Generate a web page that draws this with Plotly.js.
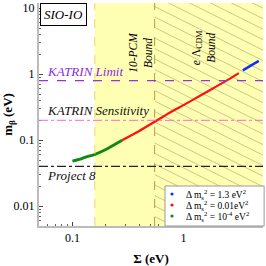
<!DOCTYPE html>
<html><head><meta charset="utf-8">
<script src="https://cdn.plot.ly/plotly-3.0.1.min.js"></script>
<style>html,body{margin:0;padding:0;background:#fff}#c{width:266px;height:266px}</style>
</head><body><div id="c"></div>
<script>
// Data
var greenSigma = [0.1, 0.115, 0.13, 0.16, 0.2, 0.24, 0.28];
var greenMb    = [0.048, 0.051, 0.055, 0.061, 0.072, 0.086, 0.1];
var redSigma   = [0.28, 0.4, 0.55, 0.75, 1.0, 1.5, 2.0, 2.5, 3.15];
var redMb      = [0.1, 0.138, 0.19, 0.26, 0.34, 0.5, 0.66, 0.82, 1.04];
var blueSigma  = [3.42, 4.0, 4.77];
var blueMb     = [1.14, 1.34, 1.59];
var seriesColors = ['#1030ff', '#ff1010', '#118811'];
var legendNames = ["Δ m<sub>s</sub><sup>2</sup> = 1.3 eV<sup>2</sup>",
                   "Δ m<sub>s</sub><sup>2</sup> = 0.01eV<sup>2</sup>",
                   "Δ m<sub>s</sub><sup>2</sup> = 10<sup>-4</sup> eV<sup>2</sup>"];
var xRange = [0.05, 5.2];
var yRange = [0.005, 12];
var pcmBound = 0.159;
var lcdmBound = 0.55;
var katrinLimit = 0.8;
var katrinSens = 0.2;
var project8 = 0.04;
var xTicks = [0.1, 1];
var xTickText = ["0.1", "1"];
var yTicks = [0.01, 0.1, 1, 10];
var yTickText = ["0.01", "0.1", "1", "10"];

var serif = "Liberation Serif, Times New Roman, serif";
var L = Math.log10;
var M = {l:39, r:3, t:3, b:40};
var W = 266 - M.l - M.r, H = 266 - M.t - M.b;

// hatch pattern (styling only) for the region right of the eLCDM bound
var lx0 = L(xRange[0]), lx1 = L(xRange[1]), ly0 = L(yRange[0]), ly1 = L(yRange[1]);
var pxX = W / (lx1 - lx0), pxY = H / (ly1 - ly0);
var hatchSlope = 0.5, hatchStep = 10.5;
var hx = [], hy = [];
var xLpx = (L(lcdmBound) - lx0) * pxX, xRpx = W;
for (var y0 = -hatchSlope * W; y0 < H + 5; y0 += hatchStep) {
  var ya = y0, yb = y0 + hatchSlope * (xRpx - xLpx);
  hx.push(Math.pow(10, lx0 + xLpx / pxX), Math.pow(10, lx0 + xRpx / pxX), null);
  hy.push(Math.pow(10, ly1 - ya / pxY), Math.pow(10, ly1 - yb / pxY), null);
}

var traces = [
  {x:hx, y:hy, mode:'lines', line:{color:'rgba(140,130,70,0.55)', width:0.8}, showlegend:false, hoverinfo:'skip'},
  {x:greenSigma, y:greenMb, mode:'lines', line:{color:seriesColors[2], width:2.8, shape:'spline', smoothing:0.6}, showlegend:false},
  {x:redSigma, y:redMb, mode:'lines', line:{color:seriesColors[1], width:2.2, shape:'spline', smoothing:0.6}, showlegend:false},
  {x:blueSigma, y:blueMb, mode:'lines', line:{color:seriesColors[0], width:2.5}, showlegend:false}
];

var shapes = [
  {type:'rect', xref:'x', yref:'paper', x0:pcmBound, x1:xRange[1], y0:0, y1:1,
   fillcolor:'rgb(255,255,180)', line:{width:0}, layer:'below'},
  {type:'line', xref:'x', yref:'paper', x0:pcmBound, x1:pcmBound, y0:0, y1:1,
   line:{color:'#e8d870', width:1, dash:'dash'}},
  {type:'line', xref:'x', yref:'paper', x0:lcdmBound, x1:lcdmBound, y0:0, y1:1,
   line:{color:'#b89a40', width:1, dash:'dash'}},
  {type:'line', xref:'paper', yref:'y', x0:0, x1:1, y0:katrinLimit, y1:katrinLimit,
   line:{color:'#9a32d8', width:1.3, dash:'dash'}},
  {type:'line', xref:'paper', yref:'y', x0:0, x1:1, y0:katrinSens, y1:katrinSens,
   line:{color:'#ff66cc', width:1, dash:'dashdot'}},
  {type:'line', xref:'paper', yref:'y', x0:0, x1:1, y0:project8, y1:project8,
   line:{color:'#222', width:1.2, dash:'dashdot'}},
  // legend box
  {type:'rect', xref:'paper', yref:'paper', x0:(165 - M.l) / W, x1:1.005, y0:0, y1:(H + M.t - 186) / H,
   fillcolor:'#fff', line:{color:'#999', width:1}}
];

var annotations = [
  {xref:'paper', yref:'paper', x:0.003, y:1, xanchor:'left', yanchor:'top', showarrow:false,
   text:'<i>SIO-IO</i>', font:{family:serif, size:13, color:'#000'},
   bordercolor:'#000', borderwidth:1, borderpad:3, bgcolor:'#fff'},
  {xref:'x', yref:'paper', x:L(0.41), y:0.88, showarrow:false, textangle:-90,
   text:'<i>10-PCM<br>Bound</i>', font:{family:serif, size:11.5, color:'#000'}},
  {xref:'x', yref:'paper', x:L(1.5), y:0.885, showarrow:false, textangle:-90,
   text:'<i>e</i> Λ<sub>CDM</sub><br><i>Bound</i>', font:{family:serif, size:11.5, color:'#000'}},
  {xref:'paper', yref:'y', x:0.025, y:L(katrinLimit), xanchor:'left', yanchor:'bottom', showarrow:false,
   text:'<i>KATRIN Limit</i>', font:{family:serif, size:13, color:'#8a2be2'}},
  {xref:'paper', yref:'y', x:0.025, y:L(katrinSens), xanchor:'left', yanchor:'bottom', showarrow:false,
   text:'<i>KATRIN Sensitivity</i>', font:{family:serif, size:13, color:'#111'}},
  {xref:'paper', yref:'y', x:0.025, y:L(project8), xanchor:'left', yanchor:'top', showarrow:false,
   text:'<i>Project 8</i>', font:{family:serif, size:13, color:'#111'}}
];

// custom legend rows
var rowY = [194, 205, 216];
for (var i = 0; i < 3; i++) {
  var py = (H + M.t - rowY[i]) / H;
  annotations.push({xref:'paper', yref:'paper', x:(185 - M.l) / W, y:py, xanchor:'left', yanchor:'middle',
    showarrow:false, borderpad:0, text:legendNames[i], font:{family:serif, size:9.5, color:'#000'}});
  shapes.push({type:'circle', xref:'paper', yref:'paper', xsizemode:'pixel', ysizemode:'pixel',
    xanchor:(172 - M.l) / W, yanchor:py, x0:-1.6, x1:1.6, y0:-1.6, y1:1.6,
    fillcolor:seriesColors[i], line:{width:0}});
}

var axisCommon = {
  type:'log', showgrid:false, zeroline:false, showline:true, linecolor:'#bbbbbb', linewidth:2,
  ticks:'inside', ticklen:4, tickcolor:'#444', tickwidth:1, automargin:false,
  minor:{ticks:'inside', ticklen:2, tickcolor:'#666', dtick:'D1', showgrid:false},
  tickfont:{family:serif, size:12, color:'#000'}, tickmode:'array'
};

var layout = {
  width:266, height:266, margin:M,
  paper_bgcolor:'#fff', plot_bgcolor:'#fff', shapes:shapes, annotations:annotations,
  xaxis:Object.assign({}, axisCommon, {range:[lx0, lx1], tickvals:xTicks, ticktext:xTickText,
    title:{text:'<b>Σ (eV)</b>', font:{family:serif, size:13, color:'#000'}}}),
  yaxis:Object.assign({}, axisCommon, {range:[ly0, ly1], tickvals:yTicks, ticktext:yTickText,
    title:{text:'<b>m<sub>β</sub> (eV)</b>', font:{family:serif, size:13, color:'#000'}}}),
  showlegend:false
};

Plotly.newPlot('c', traces, layout, {staticPlot:true, displayModeBar:false});
</script></body></html>
